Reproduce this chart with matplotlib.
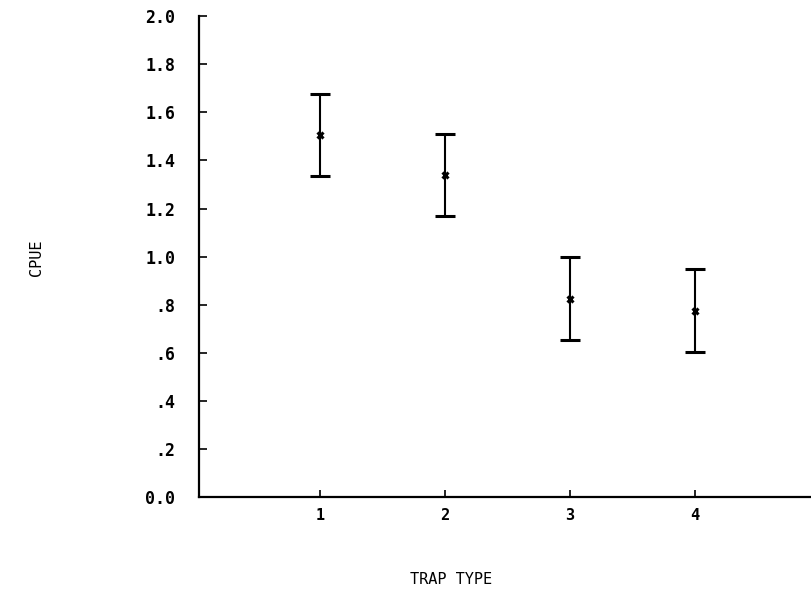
import matplotlib
matplotlib.use("Agg")
import matplotlib.pyplot as plt

trap_types = [1, 2, 3, 4]
cpue_mean = [1.505, 1.340, 0.823, 0.773]
cpue_low = [1.335, 1.170, 0.655, 0.605]
cpue_high = [1.675, 1.512, 0.997, 0.947]
y_ticks = [0.0, 0.2, 0.4, 0.6, 0.8, 1.0, 1.2, 1.4, 1.6, 1.8, 2.0]
y_tick_labels = ["0.0", ".2", ".4", ".6", ".8", "1.0", "1.2", "1.4", "1.6", "1.8", "2.0"]
x_tick_labels = ["1", "2", "3", "4"]

plt.rcParams['font.family'] = ['DejaVu Sans Mono']
fig = plt.figure(figsize=(8.12, 5.99), dpi=100)
ax = fig.add_axes([0.245, 0.170, 0.755, 0.803])

err_low = [m - l for m, l in zip(cpue_mean, cpue_low)]
err_high = [h - m for m, h in zip(cpue_mean, cpue_high)]
ax.errorbar(trap_types, cpue_mean, yerr=[err_low, err_high], fmt='x', color='black',
            ms=5, mew=2.2, elinewidth=1.5, capsize=7, capthick=1.8)

ax.set_xlim(0.03, 4.94)
ax.set_ylim(0, 2.0)
ax.set_yticks(y_ticks)
ax.set_yticklabels(y_tick_labels, fontsize=12, fontweight='bold')
ax.set_xticks(trap_types)
ax.set_xticklabels(x_tick_labels, fontsize=11, fontweight='bold')
ax.tick_params(axis='y', direction='in', length=6, width=1.2, pad=17)
ax.tick_params(axis='x', direction='in', length=5, width=1.2, pad=8)
for s in ['top', 'right']:
    ax.spines[s].set_visible(False)
for s in ['left', 'bottom']:
    ax.spines[s].set_linewidth(1.6)

fig.text(0.556, 0.032, "TRAP TYPE", ha='center', va='center', fontsize=11)
fig.text(0.045, 0.569, "CPUE", ha='center', va='center', rotation=90, fontsize=11)

fig.savefig("out.png", dpi=100)
